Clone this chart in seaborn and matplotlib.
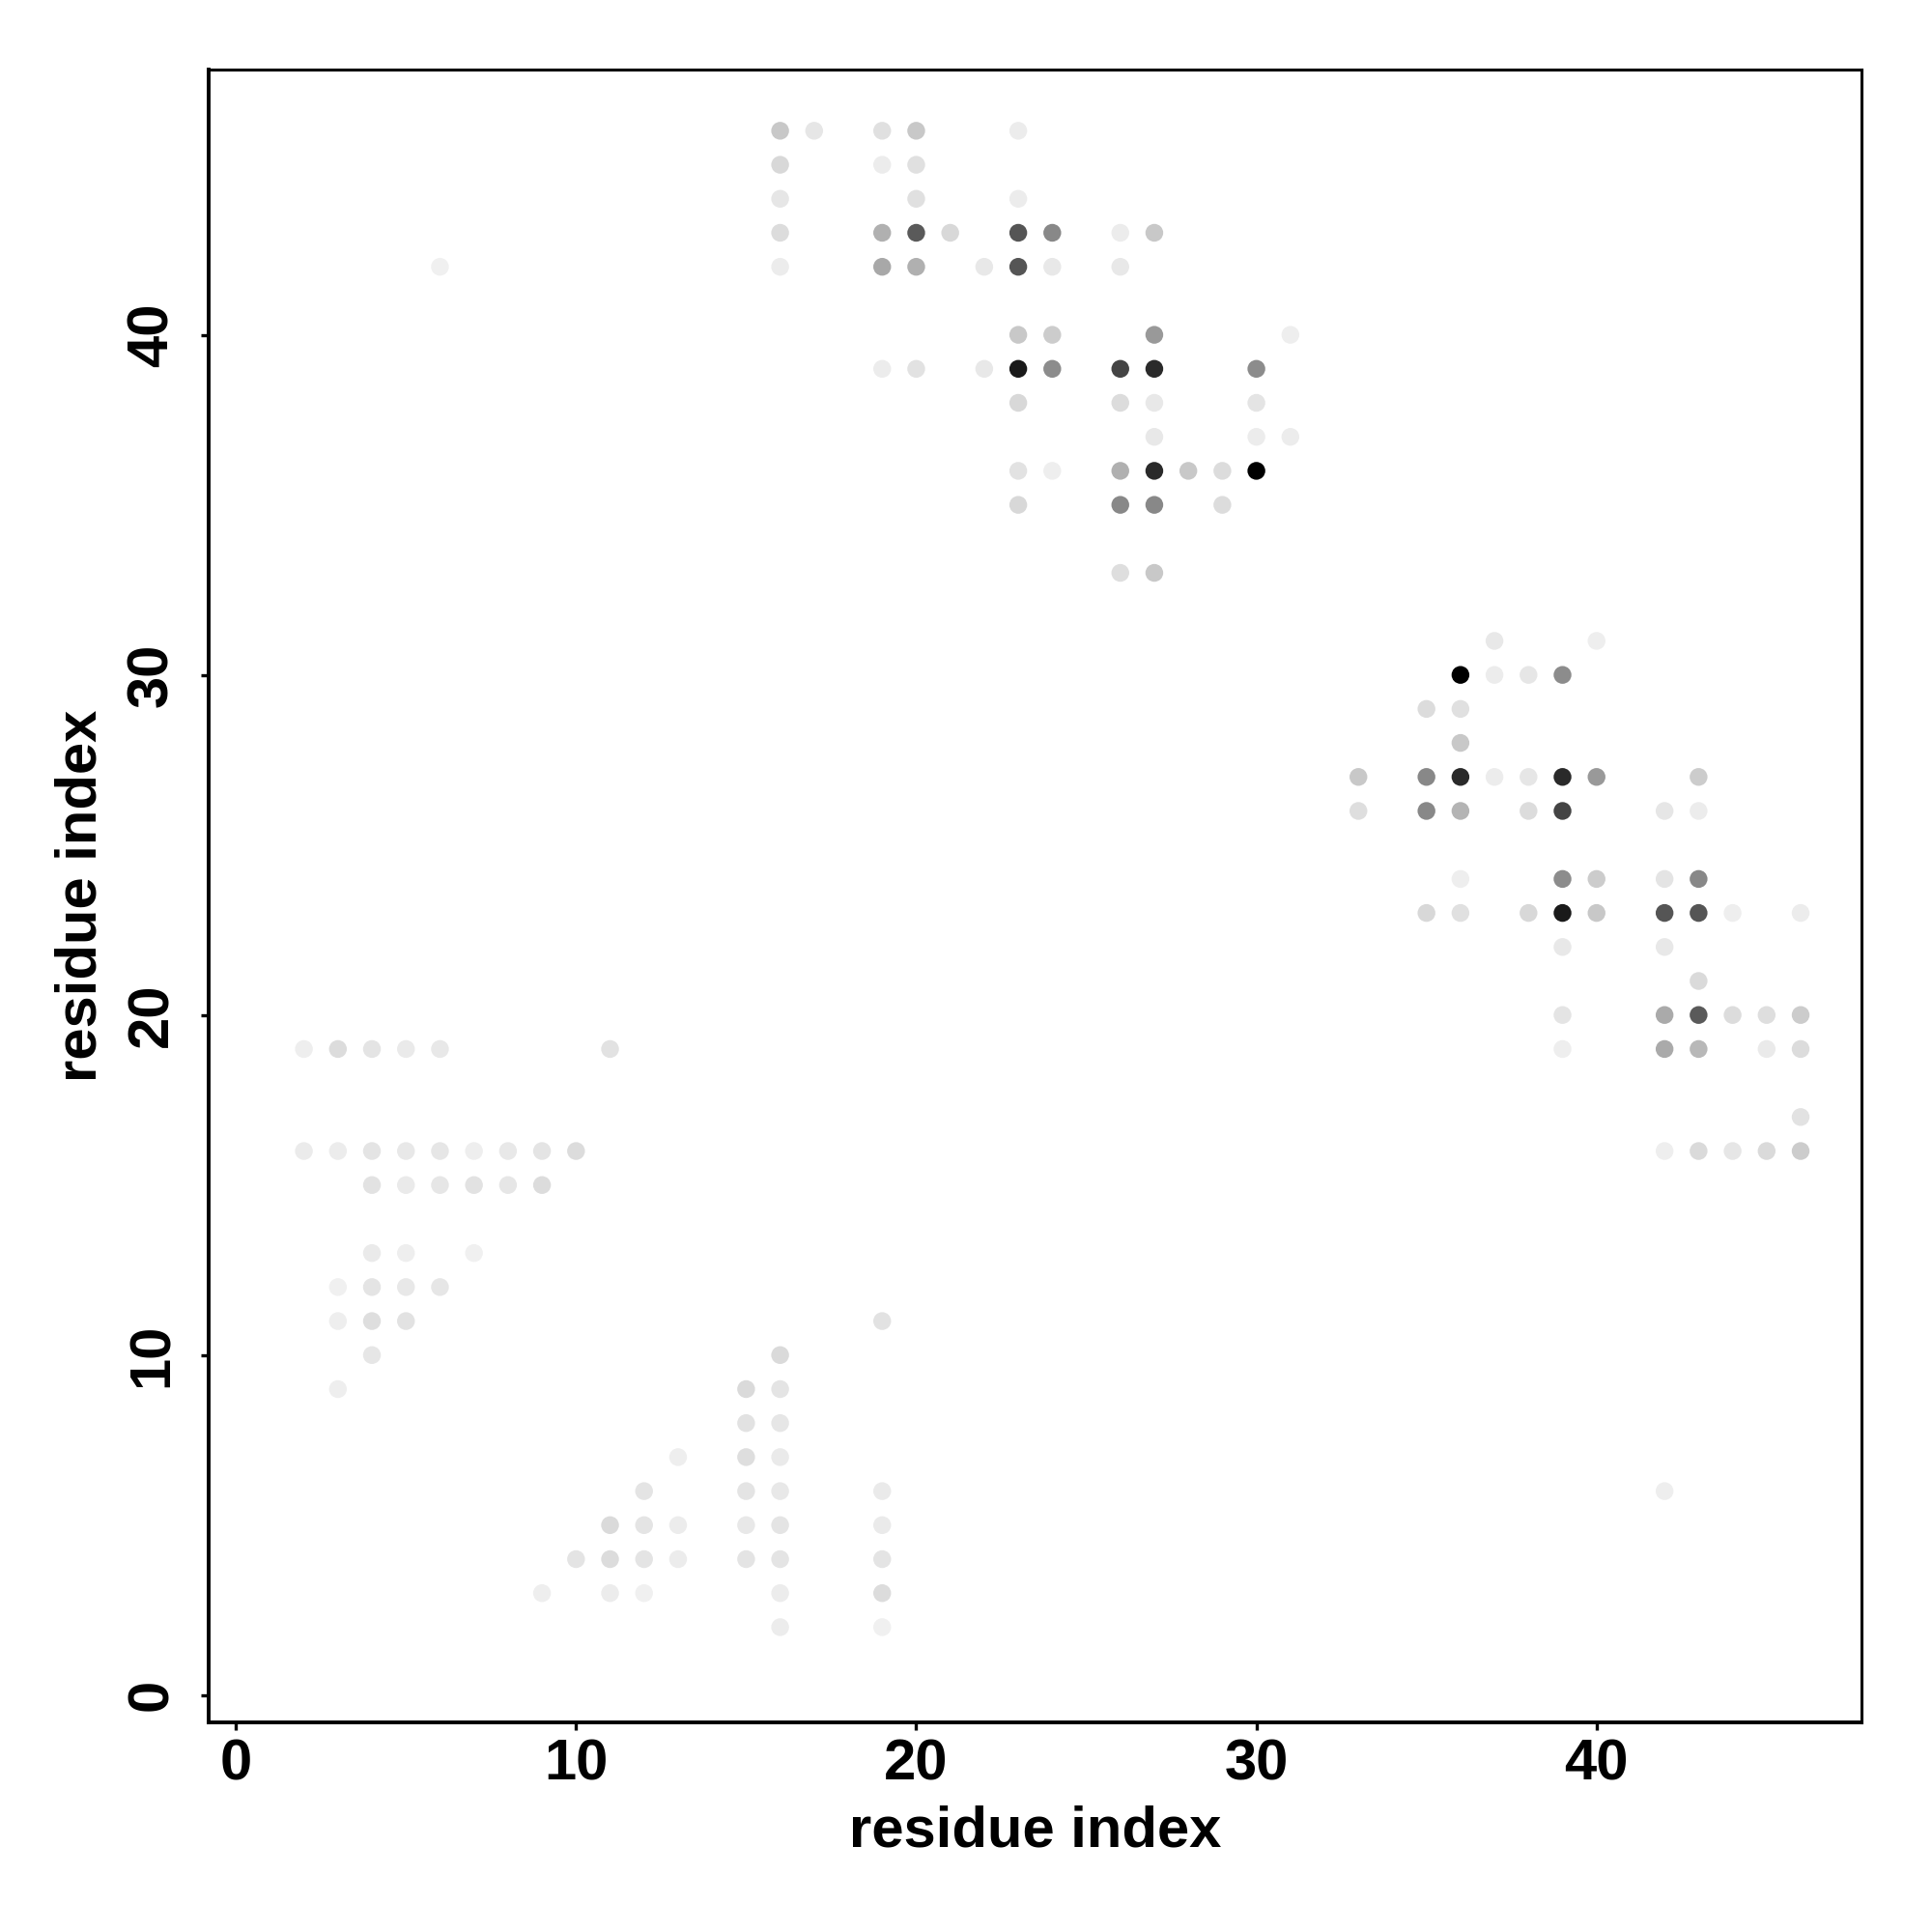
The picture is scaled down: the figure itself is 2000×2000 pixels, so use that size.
import pandas as pd
import matplotlib
matplotlib.use('Agg')
import matplotlib.pyplot as plt
import seaborn as sns

# 접촉 지도: 잔기 i, 잔기 j, 회색 농도 (0 = 검정, 255 = 흰색)
top_i = [16, 17, 19, 20, 23, 16, 19, 20, 16, 20, 23,
         16, 19, 20, 21, 23, 24, 26, 27,
         6, 16, 19, 20, 22, 23, 24, 26,
         23, 24, 27, 31,
         19, 20, 22, 23, 24, 26, 27, 30,
         23, 26, 27, 30, 27, 30, 31,
         23, 24, 26, 27, 28, 29, 30,
         23, 26, 27, 29, 26, 27]
top_j = [46, 46, 46, 46, 46, 45, 45, 45, 44, 44, 44,
         43, 43, 43, 43, 43, 43, 43, 43,
         42, 42, 42, 42, 42, 42, 42, 42,
         40, 40, 40, 40,
         39, 39, 39, 39, 39, 39, 39, 39,
         38, 38, 38, 38, 37, 37, 37,
         36, 36, 36, 36, 36, 36, 36,
         35, 35, 35, 35, 33, 33]
top_grey = [200, 230, 224, 200, 236, 216, 236, 224, 230, 224, 236,
            220, 176, 90, 216, 85, 136, 236, 200,
            240, 236, 168, 176, 232, 85, 232, 232,
            200, 204, 153, 238,
            236, 226, 232, 26, 140, 68, 42, 140,
            216, 220, 232, 228, 232, 236, 236,
            226, 238, 176, 42, 200, 220, 0,
            216, 136, 136, 220, 222, 200]

right_i = [37, 40, 36, 37, 38, 39, 35, 36, 36,
           33, 35, 36, 37, 38, 39, 40, 43,
           33, 35, 36, 38, 39, 42, 43,
           36, 39, 40, 42, 43,
           35, 36, 38, 39, 40, 42, 43, 44, 46,
           39, 42, 43,
           39, 42, 43, 44, 45, 46,
           39, 42, 43, 45, 46,
           46, 42, 43, 44, 45, 46, 42]
right_j = [31, 31, 30, 30, 30, 30, 29, 29, 28,
           27, 27, 27, 27, 27, 27, 27, 27,
           26, 26, 26, 26, 26, 26, 26,
           24, 24, 24, 24, 24,
           23, 23, 23, 23, 23, 23, 23, 23, 23,
           22, 22, 21,
           20, 20, 20, 20, 20, 20,
           19, 19, 19, 19, 19,
           17, 16, 16, 16, 16, 16, 6]
right_grey = [232, 238, 0, 236, 230, 140, 220, 224, 200,
              200, 136, 42, 236, 230, 42, 153, 204,
              222, 136, 180, 220, 68, 230, 236,
              238, 140, 204, 228, 136,
              216, 224, 216, 26, 200, 85, 85, 238, 236,
              232, 232, 218,
              228, 170, 90, 220, 222, 204,
              238, 170, 184, 234, 220,
              226, 238, 218, 230, 218, 204, 238]

left_i = [2, 3, 4, 5, 6, 11,
          2, 3, 4, 5, 6, 7, 8, 9, 10,
          4, 5, 6, 7, 8, 9,
          4, 5, 7, 3, 4, 5, 6, 3, 4, 5, 4, 3]
left_j = [19, 19, 19, 19, 19, 19,
          16, 16, 16, 16, 16, 16, 16, 16, 16,
          15, 15, 15, 15, 15, 15,
          13, 13, 13, 12, 12, 12, 12, 11, 11, 11, 10, 9]
left_grey = [238, 220, 228, 234, 232, 226,
             235, 236, 228, 232, 230, 238, 232, 228, 220,
             226, 234, 230, 226, 230, 220,
             234, 238, 240, 240, 228, 232, 230, 238, 222, 226, 230, 238]

bottom_i = [19, 16, 15, 16, 15, 16, 13, 15, 16,
            12, 15, 16, 19, 11, 12, 13, 15, 16, 19,
            10, 11, 12, 13, 15, 16, 19,
            9, 11, 12, 16, 19, 16, 19]
bottom_j = [11, 10, 9, 9, 8, 8, 7, 7, 7,
            6, 6, 6, 6, 5, 5, 5, 5, 5, 5,
            4, 4, 4, 4, 4, 4, 4,
            3, 3, 3, 3, 3, 2, 2]
bottom_grey = [226, 218, 218, 228, 226, 230, 238, 222, 234,
               228, 228, 232, 234, 218, 228, 236, 232, 228, 234,
               228, 220, 228, 236, 228, 228, 228,
               238, 236, 240, 236, 220, 236, 240]

접촉 = pd.DataFrame({
    'i': top_i + right_i + left_i + bottom_i,
    'j': top_j + right_j + left_j + bottom_j,
    'grey': top_grey + right_grey + left_grey + bottom_grey,
})
접촉['darkness'] = 1 - 접촉['grey'] / 255

#%%
sns.set_style('white')
plt.rcParams['font.family'] = ['Liberation Sans', 'DejaVu Sans']
plt.rcParams['font.weight'] = 'bold'
plt.rcParams['text.color'] = 'black'
plt.rcParams['axes.labelcolor'] = 'black'
plt.rcParams['xtick.color'] = 'black'
plt.rcParams['ytick.color'] = 'black'

fig = plt.figure(figsize=(10, 10), dpi=200)
ax = fig.add_axes([0.108, 0.1085, 0.8557, 0.8555])

sns.scatterplot(data=접촉, x='i', y='j', hue='darkness', palette='gray_r',
                hue_norm=(0, 1), s=44, linewidth=0, legend=False, ax=ax)

ax.set_xlim(-0.8, 47.8)
ax.set_ylim(-0.8, 47.8)
ax.set_xticks([0, 10, 20, 30, 40])
ax.set_yticks([0, 10, 20, 30, 40])
ax.tick_params(axis='both', direction='out', length=3, width=1.2,
               labelsize=21.5, colors='black', bottom=True, left=True)
ax.tick_params(axis='x', pad=3)
ax.tick_params(axis='y', pad=8)
for lab in ax.get_yticklabels():
    lab.set_rotation(90)
    lab.set_va('center')
for lab in ax.get_xticklabels() + ax.get_yticklabels():
    lab.set_fontweight('bold')

for side in ['top', 'right']:
    ax.spines[side].set_linewidth(1.1)
for side in ['left', 'bottom']:
    ax.spines[side].set_linewidth(1.4)
for sp in ax.spines.values():
    sp.set_color('black')

ax.set_xlabel('residue index', fontsize=21.5, fontweight='bold', labelpad=5, color='black')
ax.set_ylabel('residue index', fontsize=21.5, fontweight='bold', labelpad=7, color='black')

fig.savefig('out.png', dpi=200, facecolor='white')
